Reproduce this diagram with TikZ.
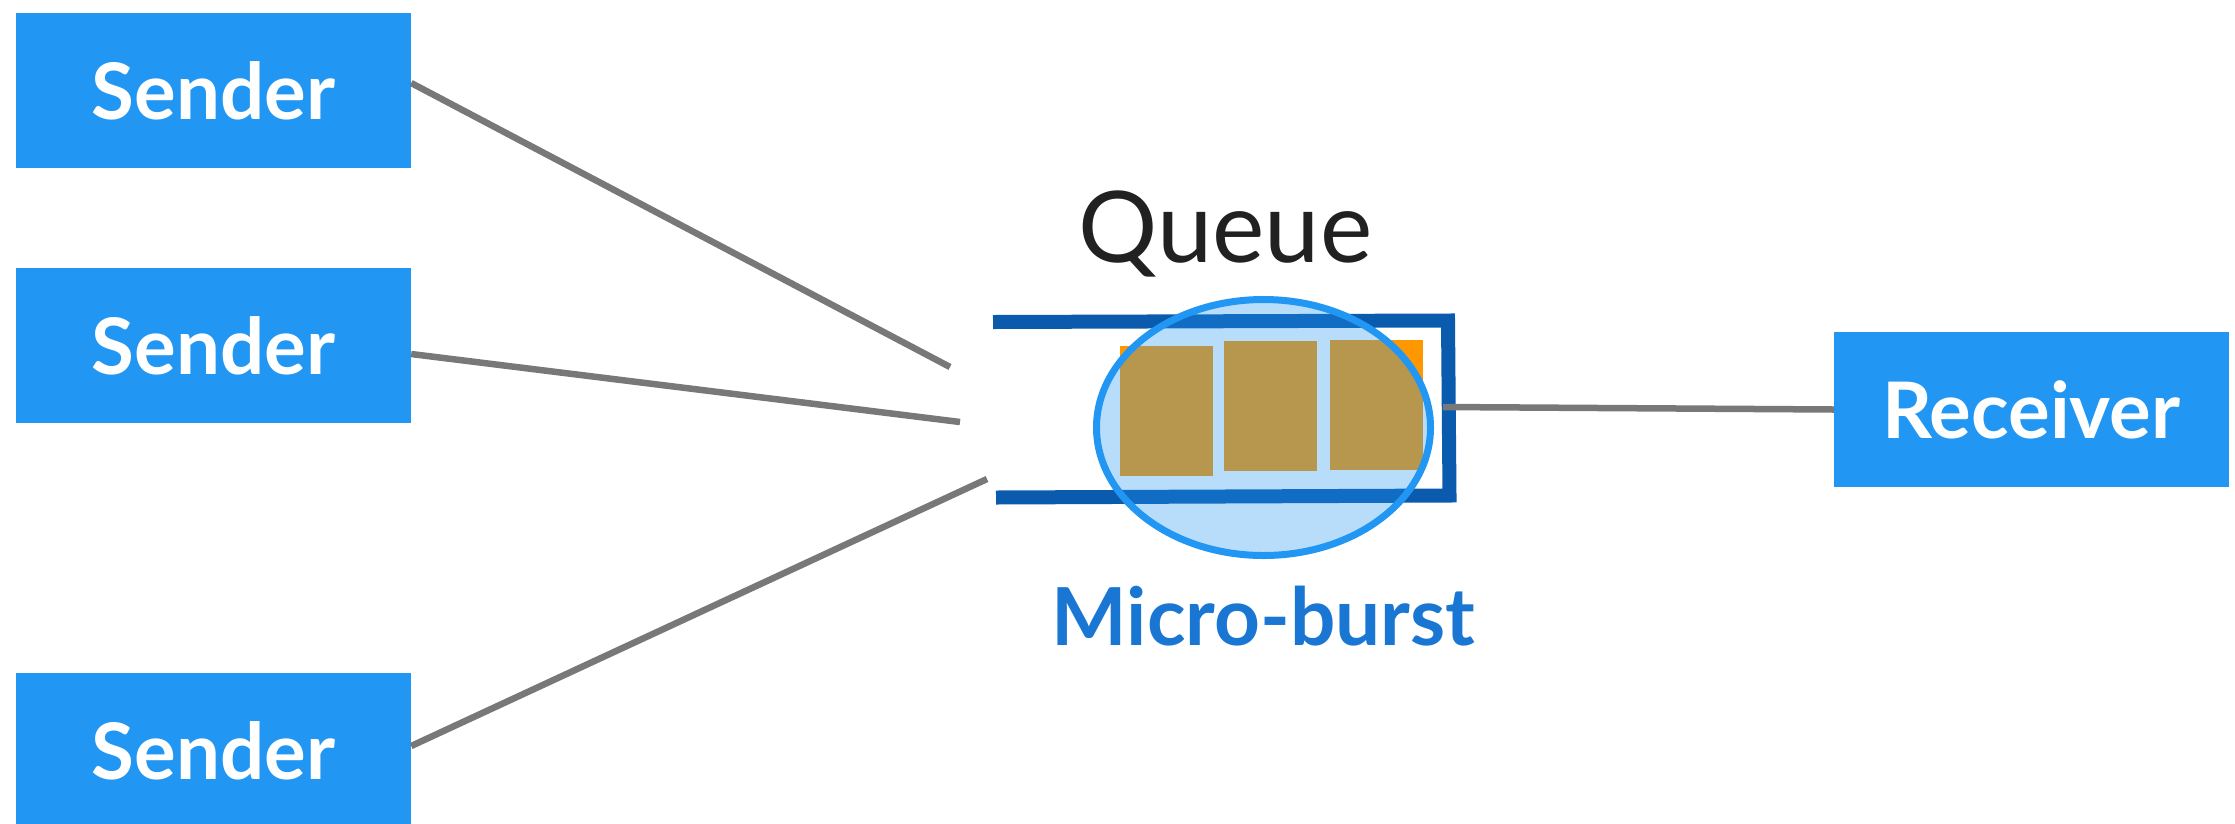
\documentclass[tikz,border=0pt]{standalone}
\usepackage{fontspec}
\setmainfont{Lato}
\usetikzlibrary{calc,shapes.geometric}

\definecolor{boxblue}{RGB}{33,150,243}
\definecolor{linkgray}{RGB}{120,120,120}
\definecolor{queueblue}{RGB}{10,91,173}
\definecolor{itemorange}{RGB}{255,152,0}
\definecolor{bursttext}{RGB}{25,118,210}
\definecolor{labeltext}{RGB}{33,33,33}

\tikzset{
  endpoint/.style={fill=boxblue, minimum width=395pt, minimum height=155pt,
    inner sep=0pt, text=white, font=\fontsize{78}{90}\selectfont\bfseries},
  link/.style={draw=linkgray, line width=6.5pt},
  qwall/.style={draw=queueblue, line width=14pt, miter limit=10},
  packet/.style={fill=itemorange},
  burst/.style={ellipse, draw=boxblue, line width=7pt, fill=boxblue, fill opacity=0.32,
    minimum width=334pt, minimum height=256pt, inner sep=0pt}
}

\begin{document}
\begin{tikzpicture}[x=1pt, y=-1pt]
  \useasboundingbox (0,0) rectangle (2235,823);

  % senders and receiver
  \node[endpoint] (s1) at (213.5,90.5)  {\raisebox{-5pt}{Sender}};
  \node[endpoint] (s2) at (213.5,345.5) {\raisebox{-5pt}{Sender}};
  \node[endpoint] (s3) at (213.5,750.5) {\raisebox{-5pt}{Sender}};
  \node[endpoint] (rx) at (2031.5,409.5) {\raisebox{-4pt}{Receiver}};

  % loose ends of the incoming links, just short of the queue mouth
  \coordinate (in1) at (950,367);
  \coordinate (in2) at (960,422);
  \coordinate (in3) at (987,479);
  \coordinate (qout) at (1443,407);

  % incoming links
  \draw[link] ([yshift=7.5pt]s1.east) -- (in1);
  \draw[link] ([yshift=-8.5pt]s2.east) -- (in2);
  \draw[link] ([yshift=4.5pt]s3.east) -- (in3);

  % queued packets
  \fill[packet] (1120,346) rectangle (1213,476);
  \fill[packet] (1224,341) rectangle (1317,471);
  \fill[packet] (1330,340) rectangle (1423,470);

  % queue walls, open on the left
  \draw[qwall] (993,322) -- (1448,320.5) -- (1449.5,495.5) -- (996,497.5);

  % burst highlight
  \node[burst] (mb) at (1263.5,427.5) {};

  % outgoing link
  \draw[link] (qout) -- (rx.west);

  % labels
  \node[anchor=base, text=labeltext, font=\fontsize{99}{110}\selectfont, inner sep=0pt]
    (qlabel) at (1225.5,262) {Queue};
  \node[anchor=base, text=bursttext, font=\fontsize{80}{92}\selectfont\bfseries, inner sep=0pt]
    (mblabel) at (1263.5,645) {Micro-burst};
\end{tikzpicture}
\end{document}
